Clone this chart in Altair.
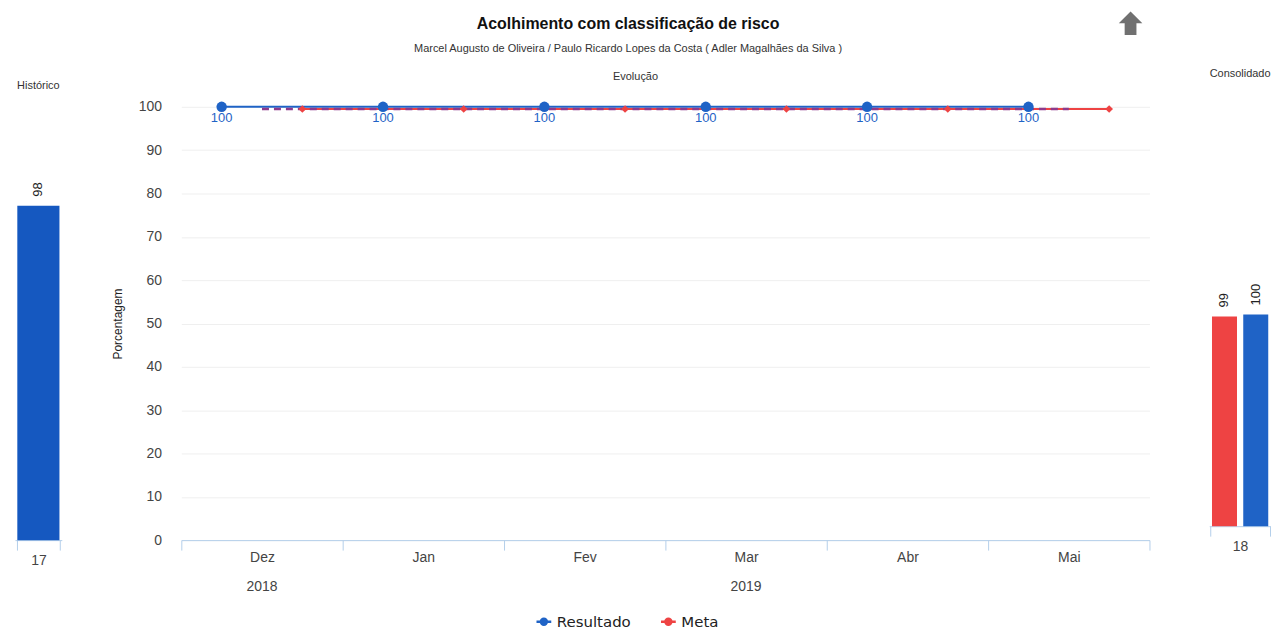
import altair as alt
import pandas as pd

# ---- data ----
meses = ["Dez", "Jan", "Fev", "Mar", "Abr", "Mai"]
resultado = [100, 100, 100, 100, 100, 100]
meta = [99.5, 99.5, 99.5, 99.5, 99.5, 99.5]
ano_mes = ["Dez", "Mar"]
ano_txt = ["2018", "2019"]

hist_periodo = ["17"]
hist_valor = [98]

cons_periodo = ["18", "18"]
cons_serie = ["Meta", "Resultado"]
cons_valor = [99, 100]

BLUE = "#1f63c6"
RED = "#ee4343"
PURPLE = "#8e3a8c"
AXIS_BLUE = "#b3cfea"
FONT = "Liberation Sans"

series_order = ["Resultado", "Meta"]
color_scale = alt.Scale(domain=series_order, range=[BLUE, RED])

df = pd.DataFrame({
    "mes": meses * 2,
    "serie": ["Resultado"] * len(meses) + ["Meta"] * len(meses),
    "valor": resultado + meta,
})
df_res = pd.DataFrame({"mes": meses, "serie": "Resultado", "valor": resultado})
df_meta = pd.DataFrame({"mes": meses, "serie": "Meta", "valor": meta})
df_ano = pd.DataFrame({"mes": ano_mes, "ano": ano_txt})
df_icon = pd.DataFrame({"t": ["voltar"]})

H = 435
W = 972

x_main = alt.X(
    "mes:N", sort=meses, title=None,
    scale=alt.Scale(paddingInner=0, paddingOuter=0),
    axis=alt.Axis(tickBand="extent", domainColor=AXIS_BLUE, tickColor=AXIS_BLUE,
                  tickSize=10, labelPadding=0, labelFontSize=14, labelColor="#444",
                  labelAngle=0, grid=False, labelFont=FONT),
)
y_main = alt.Y(
    "valor:Q", title="Porcentagem",
    scale=alt.Scale(domain=[0, 100], nice=False),
    axis=alt.Axis(values=list(range(0, 101, 10)), tickSize=0, labelPadding=20,
                  domain=False, gridColor="#efefef", labelFontSize=14,
                  labelColor="#444", titleFontSize=12, titleFontWeight="normal",
                  titleColor="#222", titlePadding=14, labelFont=FONT, titleFont=FONT),
)
xoff = alt.XOffset("serie:N", sort=series_order, scale=alt.Scale(domain=series_order))

lines = alt.Chart(df).mark_line(strokeWidth=2).encode(
    x=x_main, y=y_main, xOffset=xoff,
    color=alt.Color("serie:N", scale=color_scale, sort=series_order,
                    legend=alt.Legend(title=None, orient="none", direction="horizontal",
                                      legendX=355, legendY=508,
                                      symbolType="M-1,0H1M-0.4,0A0.4,0.4 0 1,1 0.4,0A0.4,0.4 0 1,1 -0.4,0",
                                      symbolSize=220, symbolStrokeWidth=2.5,
                                      labelFontSize=15, labelFont="DejaVu Sans",
                                      labelColor="#222", columnPadding=24)),
    detail="serie:N",
)
meta_dash = alt.Chart(df_meta).mark_line(strokeWidth=2.5, strokeDash=[7, 5], color=PURPLE).encode(
    x=alt.X("mes:N", sort=meses), y="valor:Q",
)
points = alt.Chart(df).mark_point(filled=True, opacity=1).encode(
    x=x_main, y=y_main, xOffset=xoff,
    color=alt.Color("serie:N", scale=color_scale, sort=series_order),
    shape=alt.Shape("serie:N", scale=alt.Scale(domain=series_order, range=["circle", "diamond"]), legend=None),
    size=alt.Size("serie:N", scale=alt.Scale(domain=series_order, range=[110, 60]), legend=None),
)
labels = alt.Chart(df_res).mark_text(dy=11, fontSize=13, color=BLUE, font=FONT).encode(
    x=x_main, y=y_main, xOffset=xoff, text=alt.Text("valor:Q", format=".0f"),
)
years = alt.Chart(df_ano).mark_text(fontSize=14, color="#444", font=FONT, baseline="middle").encode(
    x=alt.X("mes:N", sort=meses), y=alt.value(H + 47), text="ano:N",
)
icon = alt.Chart(df_icon).mark_point(
    shape="M0,-1L1,0H0.5V1H-0.5V0H-1Z", size=560, filled=True, color="#707070", opacity=1,
).encode(
    x=alt.value(953), y=alt.value(-84), tooltip="t:N",
)
evol = alt.Chart(pd.DataFrame({"t": ["Evolução"]})).mark_text(
    fontSize=11, color="#333", font=FONT).encode(
    x=alt.value(W / 2 - 30), y=alt.value(-30), text="t:N",
)

main = alt.layer(lines, meta_dash, points, labels, years, icon, evol).properties(
    width=W, height=H,
).resolve_scale(xOffset="shared")

# ---- Histórico ----
df_hist = pd.DataFrame({"periodo": hist_periodo, "valor": hist_valor})
left_base = alt.Chart(df_hist).encode(
    x=alt.X("periodo:N", title=None,
            scale=alt.Scale(paddingInner=0.1, paddingOuter=0.05),
            axis=alt.Axis(tickBand="extent", domainColor=AXIS_BLUE, tickColor=AXIS_BLUE,
                          tickSize=10, labelPadding=3, labelFontSize=14, labelColor="#444",
                          labelAngle=0, labelFont=FONT, grid=False)),
    y=alt.Y("valor:Q", title=None, scale=alt.Scale(domain=[0, 127], nice=False), axis=None),
)
left = alt.layer(
    left_base.mark_bar(color="#1558c0"),
    left_base.mark_text(angle=270, align="left", baseline="middle", dx=9, fontSize=13,
                        color="#222", font=FONT).encode(text="valor:Q"),
).properties(
    width=47, height=H,
    title=alt.TitleParams("Histórico", fontSize=11, fontWeight="normal", color="#333",
                          font=FONT, offset=16, anchor="middle"),
)

# ---- Consolidado ----
df_cons = pd.DataFrame({"periodo": cons_periodo, "serie": cons_serie, "valor": cons_valor})
cons_order = ["Meta", "Resultado"]
right_base = alt.Chart(df_cons).encode(
    x=alt.X("periodo:N", title=None,
            scale=alt.Scale(paddingInner=0, paddingOuter=0.02),
            axis=alt.Axis(tickBand="extent", domainColor=AXIS_BLUE, tickColor=AXIS_BLUE,
                          tickSize=10, labelPadding=3, labelFontSize=14, labelColor="#444",
                          labelAngle=0, labelFont=FONT, grid=False)),
    xOffset=alt.XOffset("serie:N", sort=cons_order,
                        scale=alt.Scale(domain=cons_order, paddingInner=0.2, paddingOuter=0.05)),
    y=alt.Y("valor:Q", title=None, scale=alt.Scale(domain=[0, 198], nice=False), axis=None),
)
right = alt.layer(
    right_base.mark_bar().encode(
        color=alt.Color("serie:N", scale=alt.Scale(domain=cons_order, range=[RED, BLUE]), legend=None)),
    right_base.mark_text(angle=270, align="left", baseline="middle", dx=9, fontSize=13,
                         color="#222", font=FONT).encode(text="valor:Q"),
).properties(
    width=62, height=421,
    title=alt.TitleParams("Consolidado", fontSize=11, fontWeight="normal", color="#333",
                          font=FONT, offset=28, anchor="middle"),
)

inner = alt.hconcat(left, main, spacing=49).resolve_scale(
    xOffset="independent", color="independent", x="independent")
chart = alt.hconcat(inner, right, spacing=59).resolve_scale(
    xOffset="independent", color="independent", x="independent").properties(
    title=alt.TitleParams(
        "Acolhimento com classificação de risco",
        subtitle="Marcel Augusto de Oliveira / Paulo Ricardo Lopes da Costa ( Adler Magalhães da Silva )",
        fontSize=16, fontWeight="bold", color="#111", font=FONT,
        subtitleFontSize=11, subtitleColor="#333", subtitleFont=FONT, subtitlePadding=11,
        anchor="middle", dx=-15, offset=-43,
    ),
    padding={"left": 7, "top": 2, "right": 0, "bottom": 0},
    background="white",
).configure_view(stroke=None)

chart.save("out.html", embed_options={"renderer": "svg", "actions": False})
